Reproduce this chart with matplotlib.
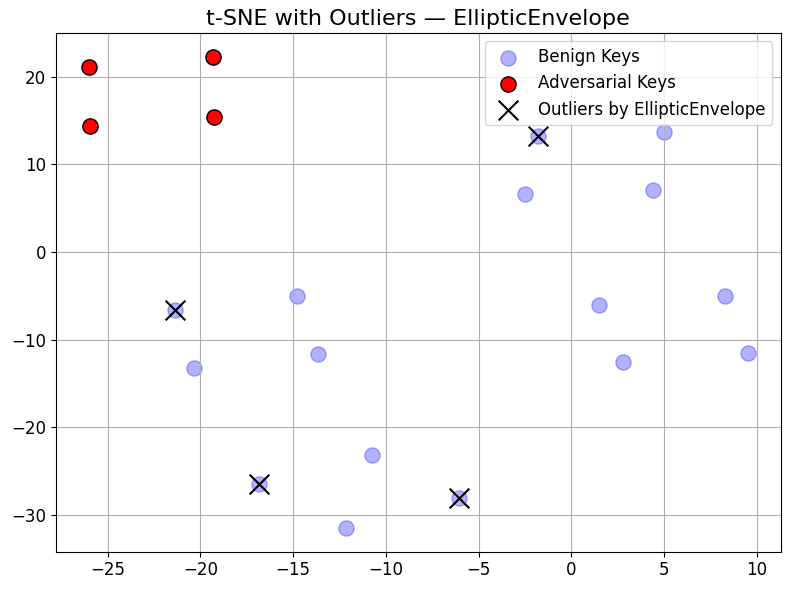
import numpy as np
import matplotlib
matplotlib.use('Agg')
import matplotlib.pyplot as plt

# t-SNE coordinates
benign_x = [-1.78, 5.01, -2.53, 4.37, 1.46, 8.25, 2.80, 9.49,
            -21.38, -14.79, -20.32, -13.64, -16.82, -10.73, -12.15, -6.04]
benign_y = [13.26, 13.72, 6.64, 7.10, -6.03, -5.00, -12.50, -11.47,
            -6.60, -4.97, -13.18, -11.62, -26.46, -23.12, -31.48, -28.06]

adv_x = [-26.00, -19.30, -25.96, -19.25]
adv_y = [21.06, 22.28, 14.33, 15.43]

# indices of benign points flagged by EllipticEnvelope
outlier_idx = [0, 8, 12, 15]

benign_x = np.array(benign_x)
benign_y = np.array(benign_y)

plt.figure(figsize=(7.9, 5.9))
plt.scatter(benign_x, benign_y, c='blue', alpha=0.3, s=120, label='Benign Keys')
plt.scatter(adv_x, adv_y, c='red', edgecolors='black', s=120, label='Adversarial Keys')
plt.scatter(benign_x[outlier_idx], benign_y[outlier_idx], c='black', marker='x',
            s=200, linewidths=1.5, label='Outliers by EllipticEnvelope')

plt.title('t-SNE with Outliers \u2014 EllipticEnvelope', fontsize=16)
plt.xticks(fontsize=12)
plt.yticks(fontsize=12)
plt.legend(loc='upper right', fontsize=12)
plt.grid(True)
plt.subplots_adjust(left=0.071, right=0.988, top=0.944, bottom=0.065)
plt.savefig('out.png', dpi=100)
